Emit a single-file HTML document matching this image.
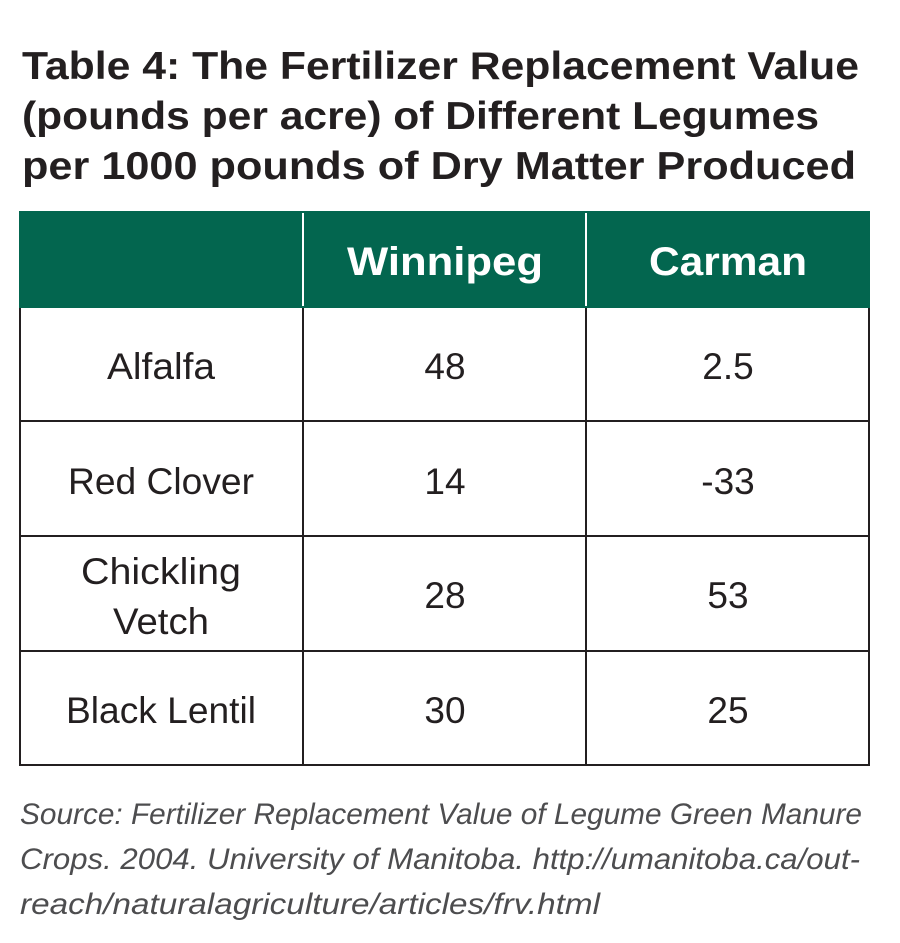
<!DOCTYPE html>
<html><head><meta charset="utf-8"><style>html,body{margin:0;padding:0;background:#fff}svg{display:block}</style></head>
<body>
<svg width="900" height="943" viewBox="0 0 900 943" xmlns="http://www.w3.org/2000/svg" font-family="Liberation Sans, sans-serif">
<g font-weight="bold" font-size="39" fill="#231f20">
<text x="22" y="79" textLength="837" lengthAdjust="spacingAndGlyphs">Table 4: The Fertilizer Replacement Value</text>
<text x="22" y="129" textLength="797" lengthAdjust="spacingAndGlyphs">(pounds per acre) of Different Legumes</text>
<text x="22" y="179" textLength="834" lengthAdjust="spacingAndGlyphs">per 1000 pounds of Dry Matter Produced</text>
</g>
<rect x="19" y="211" width="851" height="97" fill="#03664f"/>
<rect x="302" y="213" width="2" height="93" fill="#fff"/>
<rect x="585" y="213" width="2" height="93" fill="#fff"/>
<g font-weight="bold" font-size="40" fill="#fff" text-anchor="middle">
<text x="445" y="275" textLength="196" lengthAdjust="spacingAndGlyphs">Winnipeg</text>
<text x="728" y="275" textLength="158" lengthAdjust="spacingAndGlyphs">Carman</text>
</g>
<g stroke="#231f20" stroke-width="2" fill="none">
<path d="M20 308V765H869V308"/>
<path d="M303 308V765M586 308V765"/>
<path d="M20 421H869M20 536H869M20 651H869"/>
</g>
<g font-size="37" fill="#231f20" text-anchor="middle">
<text x="161" y="379" textLength="108" lengthAdjust="spacingAndGlyphs">Alfalfa</text>
<text x="445" y="379">48</text><text x="728" y="379">2.5</text>
<text x="161" y="494" textLength="186" lengthAdjust="spacingAndGlyphs">Red Clover</text>
<text x="445" y="494">14</text><text x="728" y="494">-33</text>
<text x="161" y="584" textLength="160" lengthAdjust="spacingAndGlyphs">Chickling</text>
<text x="161" y="634" textLength="96" lengthAdjust="spacingAndGlyphs">Vetch</text>
<text x="445" y="608">28</text><text x="728" y="608">53</text>
<text x="161" y="723" textLength="190" lengthAdjust="spacingAndGlyphs">Black Lentil</text>
<text x="445" y="723">30</text><text x="728" y="723">25</text>
</g>
<g font-style="italic" font-size="30" fill="#4d4d4f">
<text x="20" y="824" textLength="842" lengthAdjust="spacingAndGlyphs">Source: Fertilizer Replacement Value of Legume Green Manure</text>
<text x="20" y="869" textLength="840" lengthAdjust="spacingAndGlyphs">Crops. 2004. University of Manitoba. http://umanitoba.ca/out-</text>
<text x="20" y="914" textLength="580" lengthAdjust="spacingAndGlyphs">reach/naturalagriculture/articles/frv.html</text>
</g>
</svg>
</body></html>
